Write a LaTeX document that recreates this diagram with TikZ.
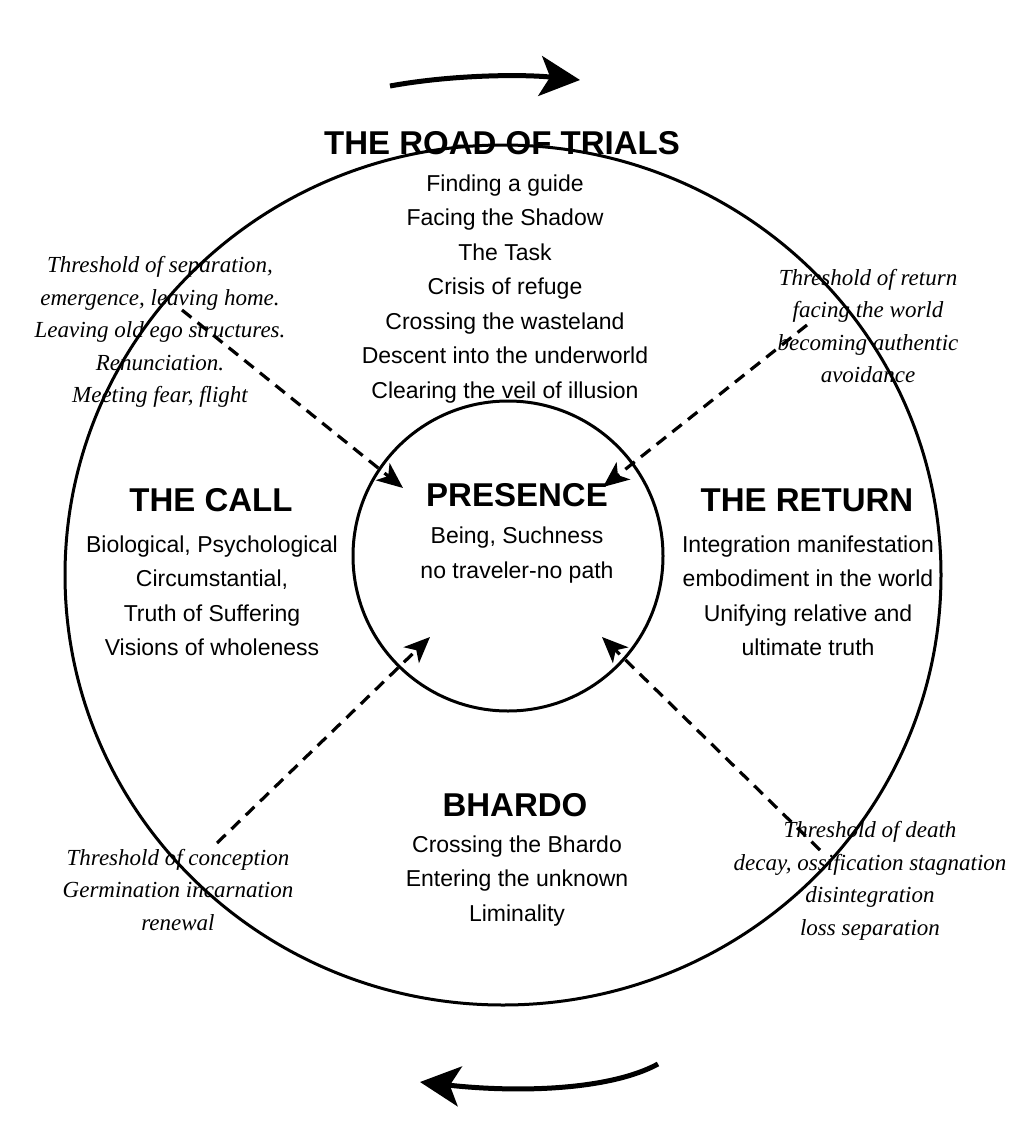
\documentclass[tikz,border=0pt]{standalone}
\usepackage{fontspec}
\setmainfont{Liberation Serif}
\setsansfont{Liberation Sans}
\usetikzlibrary{arrows.meta}
\begin{document}
\begin{tikzpicture}[x=1pt,y=-1pt,
  title/.style={font=\sffamily\bfseries\fontsize{33}{36}\selectfont, inner sep=0pt},
  body/.style={font=\sffamily\fontsize{23}{34.5}\selectfont, align=center, inner sep=0pt},
  thr/.style={font=\rmfamily\itshape\fontsize{23}{32.5}\selectfont, align=center, inner sep=0pt},
  ring/.style={draw, line width=3pt},
  flow/.style={line width=5pt, -{Stealth[length=40pt,width=40pt,inset=10pt]}},
  link/.style={line width=3.2pt, dash pattern=on 12pt off 8pt, -{Stealth[length=26pt,width=22pt,inset=7pt]}}]
\useasboundingbox[fill=white] (0,0) rectangle (1021,1140);

% circles
\draw[ring] (503,575) ellipse [x radius=438pt, y radius=430pt];
\node[ring, circle, minimum size=310pt, inner sep=0pt] (pres) at (508,556) {};

% cycle arrows
\coordinate (ta1) at (390,86);
\coordinate (ta2) at (580,80);
\draw[flow] (ta1) .. controls (450,75) and (520,74) .. (ta2);
\coordinate (ba1) at (658,1064);
\coordinate (ba2) at (420,1082);
\draw[flow] (ba1) .. controls (610,1090) and (520,1093) .. (ba2);

% sections
\node[title] (roadT) at (502,143) {THE ROAD OF TRIALS};
\node[body] (roadB) at (505,289) {Finding a guide\\Facing the Shadow\\The Task\\Crisis of refuge\\Crossing the wasteland\\Descent into the underworld\\Clearing the veil of illusion};

\node[title] (callT) at (211,500) {THE CALL};
\node[body] (callB) at (212,596) {Biological, Psychological\\Circumstantial,\\Truth of Suffering\\Visions of wholeness};

\node[title] (presT) at (517,495) {PRESENCE};
\node[body] (presB) at (517,555) {Being, Suchness\\no traveler-no path};

\node[title] (retT) at (807,500) {THE RETURN};
\node[body] (retB) at (808,596) {Integration manifestation\\embodiment in the world\\Unifying relative and\\ultimate truth};

\node[title] (bhT) at (515,805) {BHARDO};
\node[body] (bhB) at (517,881) {Crossing the Bhardo\\Entering the unknown\\Liminality};

% thresholds
\node[thr] (thUL) at (160,332) {Threshold of separation,\\emergence, leaving home.\\Leaving old ego structures.\\Renunciation.\\Meeting fear, flight};
\node[thr] (thUR) at (868,326) {Threshold of return\\facing the world\\becoming authentic\\avoidance};
\node[thr] (thLL) at (178,890) {Threshold of conception\\Germination incarnation\\renewal};
\node[thr] (thLR) at (870,881) {Threshold of death\\decay, ossification stagnation\\disintegration\\loss separation};

% dashed connectors
\coordinate (ulS) at (182,310);
\coordinate (ulE) at (403,488);
\coordinate (urS) at (807,325);
\coordinate (urE) at (603,487);
\coordinate (llS) at (217,843);
\coordinate (llE) at (430,637);
\coordinate (lrS) at (820,850);
\coordinate (lrE) at (602,637);
\draw[link] (ulS) -- (ulE);
\draw[link] (urS) -- (urE);
\draw[link] (llS) -- (llE);
\draw[link] (lrS) -- (lrE);
\end{tikzpicture}
\end{document}
